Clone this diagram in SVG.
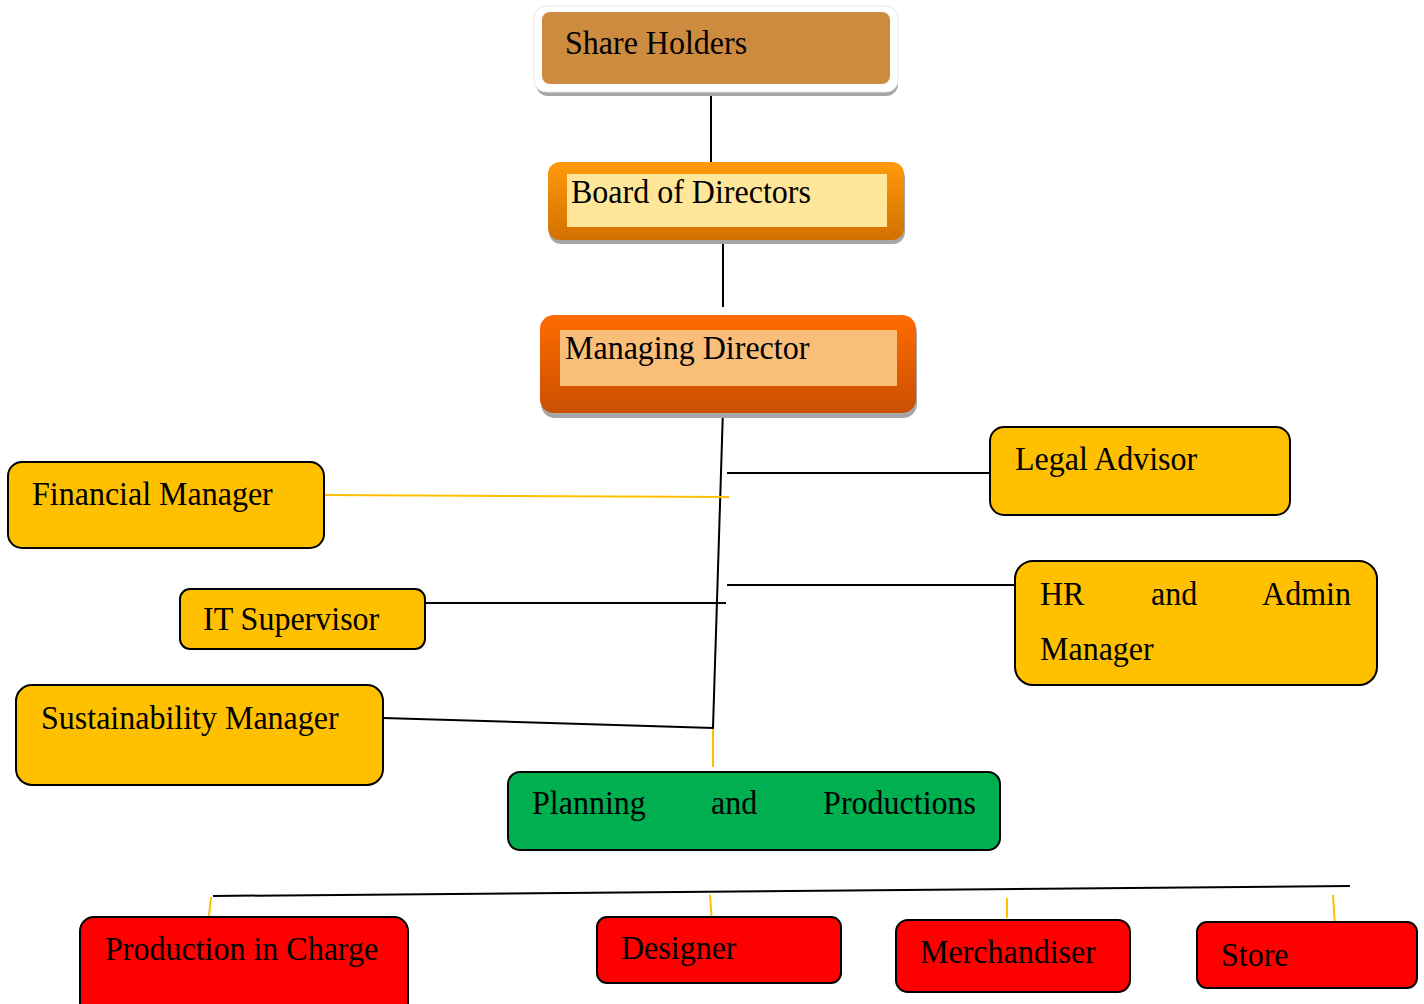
<svg xmlns="http://www.w3.org/2000/svg" width="1424" height="1004" viewBox="0 0 1424 1004">
  <defs>
    <linearGradient id="gBoard" x1="0" y1="0" x2="0" y2="1">
      <stop offset="0" stop-color="#FF9A0A"/>
      <stop offset="1" stop-color="#D27000"/>
    </linearGradient>
    <linearGradient id="gMd" x1="0" y1="0" x2="0" y2="1">
      <stop offset="0" stop-color="#FF6C00"/>
      <stop offset="1" stop-color="#C94F00"/>
    </linearGradient>
    <style>
      .lbl { font-family: "Liberation Serif", "Times New Roman", serif; font-size: 32px; fill: #000; }
      .box { stroke: #000; stroke-width: 2; }
      .yel { fill: #FFC000; }
      .red { fill: #FF0000; }
      .grn { fill: #00B050; }
      .ln { stroke: #000; stroke-width: 2; fill: none; }
      .lnY { stroke: #FFC000; stroke-width: 2; fill: none; }
    </style>
  </defs>
  <rect width="1424" height="1004" fill="#FFFFFF"/>

  <g id="connectors">
    <line class="ln" x1="711" y1="91" x2="711" y2="163"/>
    <line class="ln" x1="723" y1="232" x2="723" y2="307"/>
    <line class="ln" x1="723" y1="409" x2="713" y2="728"/>
    <line class="ln" x1="727" y1="473" x2="991" y2="473"/>
    <line class="lnY" x1="324" y1="495" x2="729" y2="497"/>
    <line class="ln" x1="727" y1="585" x2="1016" y2="585"/>
    <line class="ln" x1="425" y1="603" x2="726" y2="603"/>
    <line class="ln" x1="383" y1="718" x2="714" y2="728"/>
    <line class="lnY" x1="713" y1="729" x2="713" y2="767"/>
    <line class="ln" x1="213" y1="896" x2="1350" y2="886"/>
    <line class="lnY" x1="211" y1="897" x2="209" y2="916"/>
    <line class="lnY" x1="710" y1="895" x2="712" y2="922"/>
    <line class="lnY" x1="1007" y1="898" x2="1007" y2="918"/>
    <line class="lnY" x1="1333" y1="895" x2="1335" y2="928"/>
  </g>

  <g id="share-holders">
    <rect x="536" y="12" width="362" height="84" rx="12" fill="#A6A6A6"/>
    <rect x="534" y="6" width="364" height="86" rx="12" fill="#FFFFFF" stroke="#E6E6E6" stroke-width="1"/>
    <rect x="542" y="12" width="348" height="72" rx="8" fill="#CD8B40"/>
    <text class="lbl" transform="translate(565,54) scale(1,1.06)">Share Holders</text>
  </g>

  <g id="board-of-directors">
    <rect x="549" y="166" width="356" height="78" rx="12" fill="#A6A6A6"/>
    <rect x="548" y="162" width="356" height="78" rx="12" fill="url(#gBoard)"/>
    <rect x="567" y="174" width="320" height="53" fill="#FFE699"/>
    <text class="lbl" transform="translate(571,203) scale(1,1.06)">Board of Directors</text>
  </g>

  <g id="managing-director">
    <rect x="541" y="319" width="376" height="99" rx="14" fill="#A6A6A6"/>
    <rect x="540" y="315" width="376" height="98" rx="14" fill="url(#gMd)"/>
    <rect x="560" y="330" width="337" height="56" fill="#F8BE7A"/>
    <text class="lbl" transform="translate(565,359) scale(1,1.06)">Managing Director</text>
  </g>

  <g id="legal-advisor">
    <rect class="box yel" x="990" y="427" width="300" height="88" rx="14"/>
    <text class="lbl" transform="translate(1015,470) scale(1,1.06)">Legal Advisor</text>
  </g>

  <g id="financial-manager">
    <rect class="box yel" x="8" y="462" width="316" height="86" rx="14"/>
    <text class="lbl" transform="translate(32,505) scale(1,1.06)">Financial Manager</text>
  </g>

  <g id="hr-admin-manager">
    <rect class="box yel" x="1015" y="561" width="362" height="124" rx="18"/>
    <text class="lbl" transform="translate(1040,605) scale(1,1.06)">HR</text>
    <text class="lbl" transform="translate(1151,605) scale(1,1.06)">and</text>
    <text class="lbl" text-anchor="end" transform="translate(1351,605) scale(1,1.06)">Admin</text>
    <text class="lbl" transform="translate(1040,660) scale(1,1.06)">Manager</text>
  </g>

  <g id="it-supervisor">
    <rect class="box yel" x="180" y="589" width="245" height="60" rx="10"/>
    <text class="lbl" transform="translate(203,630) scale(1,1.06)">IT Supervisor</text>
  </g>

  <g id="sustainability-manager">
    <rect class="box yel" x="16" y="685" width="367" height="100" rx="16"/>
    <text class="lbl" transform="translate(41,729) scale(1,1.06)">Sustainability Manager</text>
  </g>

  <g id="planning-productions">
    <rect class="box grn" x="508" y="772" width="492" height="78" rx="12"/>
    <text class="lbl" transform="translate(532,814) scale(1,1.06)">Planning</text>
    <text class="lbl" transform="translate(711,814) scale(1,1.06)">and</text>
    <text class="lbl" text-anchor="end" transform="translate(976,814) scale(1,1.06)">Productions</text>
  </g>

  <g id="production-in-charge">
    <rect class="box red" x="80" y="917" width="328" height="100" rx="14"/>
    <text class="lbl" transform="translate(105,960) scale(1,1.06)">Production in Charge</text>
  </g>

  <g id="designer">
    <rect class="box red" x="597" y="917" width="244" height="66" rx="10"/>
    <text class="lbl" transform="translate(621,959) scale(1,1.06)">Designer</text>
  </g>

  <g id="merchandiser">
    <rect class="box red" x="896" y="920" width="234" height="72" rx="12"/>
    <text class="lbl" transform="translate(920,963) scale(1,1.06)">Merchandiser</text>
  </g>

  <g id="store">
    <rect class="box red" x="1197" y="922" width="220" height="66" rx="10"/>
    <text class="lbl" transform="translate(1221,966) scale(1,1.06)">Store</text>
  </g>
</svg>
